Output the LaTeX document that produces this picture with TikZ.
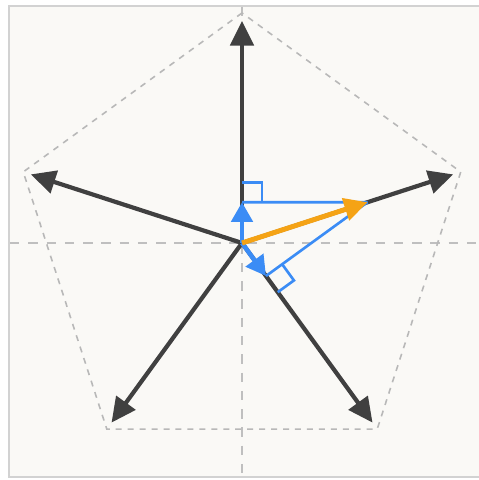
\documentclass[tikz,border=0pt]{standalone}
\usetikzlibrary{arrows.meta, calc}

\definecolor{paper}{HTML}{FAF9F6}
\definecolor{frame}{HTML}{D2D2D2}
\definecolor{basis}{HTML}{404040}
\definecolor{proj}{HTML}{3B8CF5}
\definecolor{vec}{HTML}{F5A315}

\begin{document}
\begin{tikzpicture}[
          basisvec/.style={basis, line width=1.2pt,
            -{Triangle[length=7pt, width=6.6pt]}},
          projvec/.style={proj, line width=1.3pt,
            -{Triangle[length=5.6pt, width=6pt]}},
          projline/.style={proj, line width=0.75pt},
          mainvec/.style={vec, line width=1.4pt,
            -{Triangle[length=6.6pt, width=6.4pt]}},
          axis/.style={black!25, line width=0.6pt, dash pattern=on 2.7pt off 2.5pt},
          pent/.style={black!28, line width=0.45pt, dash pattern=on 1.7pt off 1.7pt},
        ]
          \useasboundingbox (0,0) rectangle (4.78,4.80);
          \fill[white] (0,0) rectangle (4.78,4.80);
          \filldraw[fill=paper, draw=frame, line width=0.6pt] (0.09,0.03) rectangle (4.86,4.74);
          \coordinate (o)  at (2.42, 2.37);
          % axes
          \coordinate (xl) at (0.10, 2.37);
          \coordinate (xr) at (4.78, 2.37);
          \coordinate (yt) at (2.42, 4.73);
          \coordinate (yb) at (2.42, 0.04);
          \draw[axis] (xl) -- (xr);
          \draw[axis] (yt) -- (yb);
          % pentagon
          \coordinate (p1) at ($(o)+(90:2.30)$);
          \coordinate (p2) at ($(o)+(162:2.30)$);
          \coordinate (p3) at ($(o)+(234:2.30)$);
          \coordinate (p4) at ($(o)+(306:2.30)$);
          \coordinate (p5) at ($(o)+(18:2.30)$);
          \draw[pent] (p1) -- (p2) -- (p3) -- (p4) -- (p5) -- cycle;
          % basis vectors
          \coordinate (e1) at ($(o)+(90:2.22)$);
          \coordinate (e2) at ($(o)+(162:2.22)$);
          \coordinate (e3) at ($(o)+(234:2.22)$);
          \coordinate (e4) at ($(o)+(306:2.22)$);
          \coordinate (e5) at ($(o)+(18:2.22)$);
          \draw[basisvec] (o) -- (e1);
          \draw[basisvec] (o) -- (e2);
          \draw[basisvec] (o) -- (e3);
          \draw[basisvec] (o) -- (e4);
          \draw[basisvec] (o) -- (e5);
          % vector and its projections
          \coordinate (t)  at ($(o)+(18:1.32)$);
          \coordinate (q1) at ($(o)+(90:0.408)$);
          \coordinate (q2) at ($(o)+(306:0.408)$);
          \draw[projline] (q1) -- (t);
          \draw[projline] (q2) -- (t);
          \draw[projline] (q1) ++(90:0.2) -- ++(0:0.2) -- ++(-90:0.2);
          \draw[projline] (q2) ++(-54:0.2) -- ++(36:0.2) -- ++(126:0.2);
          \draw[projvec] (o) -- (q1);
          \draw[projvec] (o) -- (q2);
          \draw[mainvec] (o) -- (t);
        \end{tikzpicture}
\end{document}
